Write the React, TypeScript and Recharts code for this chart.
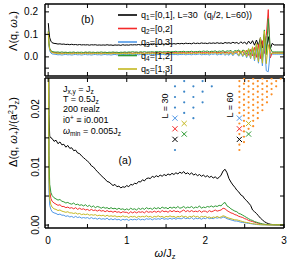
import React from 'react';
import { ComposedChart, Line, Scatter, XAxis, YAxis } from 'recharts';

// frequency grid (omega / J_z)
const omega = [
  0.002, 0.01, 0.02, 0.035, 0.05, 0.075,
  0.1, 0.125, 0.15, 0.175, 0.2, 0.225, 0.25, 0.275, 0.3, 0.325, 0.35, 0.375,
  0.4, 0.425, 0.45, 0.475, 0.5, 0.525, 0.55, 0.575, 0.6, 0.625, 0.65, 0.675,
  0.7, 0.725, 0.75, 0.775, 0.8, 0.825, 0.85, 0.875, 0.9, 0.925, 0.95, 0.975,
  1.0, 1.025, 1.05, 1.075, 1.1, 1.125, 1.15, 1.175, 1.2, 1.225, 1.25, 1.275,
  1.3, 1.325, 1.35, 1.375, 1.4, 1.425, 1.45, 1.475, 1.5, 1.525, 1.55, 1.575,
  1.6, 1.625, 1.65, 1.675, 1.7, 1.725, 1.75, 1.775, 1.8, 1.825, 1.85, 1.875,
  1.9, 1.925, 1.95, 1.975,
  2.0, 2.025, 2.05, 2.075, 2.1, 2.125, 2.15, 2.175, 2.2, 2.225, 2.25, 2.275,
  2.3, 2.325, 2.35, 2.375, 2.4, 2.425, 2.45, 2.475, 2.5, 2.525, 2.55, 2.575,
  2.6, 2.625, 2.65, 2.675, 2.7, 2.725, 2.75, 2.775, 2.8, 2.825, 2.85, 2.875,
  2.9, 2.925, 2.95, 2.975,
  3.0,
];

// panel (a): Delta(q, w+)/(a^2 J_z), values in units of 1e-3
const deltaQ1 = [
  40, 19, 15.3, 15.0, 14.9, 14.4,
  14.6, 14.0, 14.3, 13.8, 13.9, 13.4, 13.7, 13.2, 13.3, 12.8, 12.9, 12.4,
  12.3, 11.9, 11.6, 11.3, 11.0, 10.7, 10.2, 10.0, 9.6, 9.2, 8.9, 8.5,
  8.2, 7.9, 7.5, 7.4, 7.1, 6.8, 7.0, 6.6, 6.7, 6.4, 6.6, 6.5,
  6.8, 6.6, 7.0, 6.9, 7.2, 7.1, 7.5, 7.4, 7.8, 7.6, 8.0, 8.1,
  8.0, 8.4, 8.2, 8.5, 8.3, 8.6, 8.4, 8.7, 8.5, 8.8, 8.6, 8.9,
  8.7, 9.0, 8.8, 9.1, 8.9, 9.2, 8.8, 9.0, 8.7, 9.0, 8.6, 8.8,
  8.5, 8.7, 8.4, 8.6,
  8.3, 8.5, 8.2, 8.4, 8.1, 8.3, 8.0, 8.2, 8.6, 9.3, 9.6, 9.0,
  8.0, 7.4, 6.9, 6.5, 6.0, 5.7, 5.2, 5.0, 4.5, 4.2, 3.8, 3.4,
  2.6, 2.3, 2.0, 1.6, 1.2, 0.9, 0.6, 0.4, 0.25, 0.15, 0.1, 0.07,
  0.06, 0.05, 0.05, 0.05,
  0.05,
];
const deltaQ2 = [
  40, 10, 5.8, 4.6, 4.1, 3.8,
  3.6, 3.4, 3.5, 3.2, 3.2, 3.0, 3.1, 2.9, 3.0, 2.8, 3.0, 2.7,
  2.9, 2.7, 2.8, 2.6, 2.7, 2.5, 2.7, 2.5, 2.6, 2.4, 2.6, 2.4,
  2.5, 2.3, 2.5, 2.3, 2.4, 2.2, 2.4, 2.2, 2.3, 2.1, 2.3, 2.2,
  2.2, 2.0, 2.3, 2.1, 2.3, 2.1, 2.3, 2.2, 2.3, 2.1, 2.4, 2.2,
  2.3, 2.2, 2.4, 2.2, 2.4, 2.2, 2.5, 2.3, 2.4, 2.2, 2.5, 2.3,
  2.5, 2.3, 2.4, 2.2, 2.4, 2.6, 2.3, 2.5, 2.3, 2.5, 2.3, 2.4,
  2.3, 2.5, 2.2, 2.4,
  2.4, 2.2, 2.5, 2.3, 2.4, 2.6, 2.4, 2.5, 2.6, 2.9, 2.8, 2.5,
  2.3, 2.1, 2.0, 1.8, 1.7, 1.5, 1.4, 1.3, 1.1, 1.0, 0.8, 0.7,
  0.6, 0.5, 0.4, 0.3, 0.2, 0.15, 0.1, 0.08, 0.06, 0.05, 0.05, 0.05,
  0.05, 0.05, 0.05, 0.05,
  0.05,
];
const deltaQ3 = [
  40, 6, 3.4, 2.7, 2.3, 2.1,
  2.0, 1.8, 1.9, 1.7, 1.7, 1.5, 1.6, 1.4, 1.5, 1.3, 1.5, 1.3,
  1.4, 1.2, 1.3, 1.2, 1.3, 1.1, 1.3, 1.1, 1.2, 1.0, 1.2, 1.0,
  1.1, 1.0, 1.2, 0.9, 1.1, 0.9, 1.1, 0.9, 1.0, 0.8, 1.0, 0.9,
  1.0, 0.8, 1.0, 0.9, 1.0, 0.9, 1.1, 0.9, 1.0, 0.9, 1.1, 1.0,
  1.1, 0.9, 1.1, 1.0, 1.1, 1.0, 1.2, 1.0, 1.1, 1.0, 1.2, 1.0,
  1.2, 1.0, 1.2, 1.1, 1.1, 1.3, 1.1, 1.2, 1.1, 1.3, 1.0, 1.2,
  1.1, 1.2, 1.0, 1.2,
  1.1, 1.3, 1.1, 1.2, 1.1, 1.3, 1.2, 1.3, 1.2, 1.4, 1.3, 1.1,
  1.0, 0.9, 0.8, 0.7, 0.7, 0.6, 0.5, 0.45, 0.4, 0.35, 0.3, 0.25,
  0.2, 0.15, 0.1, 0.08, 0.06, 0.05, 0.05, 0.05, 0.05, 0.05, 0.05, 0.05,
  0.05, 0.05, 0.05, 0.05,
  0.05,
];
const deltaQ4 = [
  40, 12, 7.0, 5.6, 5.1, 4.7,
  4.5, 4.3, 4.4, 4.1, 4.0, 3.8, 3.9, 3.7, 3.6, 3.8, 3.5, 3.6,
  3.4, 3.5, 3.3, 3.5, 3.2, 3.4, 3.1, 3.3, 3.0, 3.2, 3.1, 2.9,
  3.1, 2.9, 3.0, 2.8, 3.0, 2.8, 2.9, 2.7, 2.9, 2.7, 2.8, 2.6,
  2.8, 2.6, 2.9, 2.7, 2.8, 2.6, 2.9, 2.7, 2.9, 2.7, 3.0, 2.8,
  2.9, 2.7, 3.0, 2.8, 3.0, 2.8, 3.1, 2.9, 3.0, 2.8, 3.1, 2.9,
  3.1, 2.9, 3.2, 2.9, 3.0, 3.2, 2.9, 3.1, 3.0, 3.2, 2.9, 3.1,
  3.0, 3.3, 2.9, 3.1,
  3.0, 3.2, 3.1, 3.3, 3.1, 3.3, 3.2, 3.4, 3.3, 3.7, 3.9, 3.3,
  3.1, 2.8, 2.6, 2.4, 2.3, 2.0, 1.9, 1.7, 1.5, 1.3, 1.1, 0.9,
  0.8, 0.6, 0.5, 0.4, 0.3, 0.2, 0.15, 0.1, 0.08, 0.06, 0.05, 0.05,
  0.05, 0.05, 0.05, 0.05,
  0.05,
];
const deltaQ5 = [
  40, 8, 4.5, 3.5, 3.1, 2.8,
  2.7, 2.5, 2.6, 2.4, 2.3, 2.2, 2.3, 2.1, 2.1, 2.0, 2.1, 1.9,
  2.0, 1.8, 1.9, 1.8, 1.9, 1.7, 1.8, 1.7, 1.8, 1.6, 1.7, 1.6,
  1.7, 1.5, 1.7, 1.5, 1.6, 1.5, 1.6, 1.4, 1.5, 1.4, 1.6, 1.4,
  1.5, 1.3, 1.5, 1.4, 1.5, 1.3, 1.5, 1.4, 1.5, 1.4, 1.6, 1.4,
  1.5, 1.3, 1.5, 1.4, 1.6, 1.4, 1.5, 1.3, 1.5, 1.4, 1.6, 1.4,
  1.5, 1.3, 1.5, 1.4, 1.6, 1.4, 1.5, 1.3, 1.5, 1.4, 1.6, 1.4,
  1.5, 1.3, 1.5, 1.4,
  1.5, 1.3, 1.4, 1.2, 1.4, 1.3, 1.5, 1.3, 1.4, 1.6, 1.5, 1.3,
  1.2, 1.1, 1.0, 0.9, 0.9, 0.8, 0.7, 0.6, 0.5, 0.45, 0.4, 0.3,
  0.25, 0.2, 0.15, 0.1, 0.08, 0.06, 0.05, 0.05, 0.05, 0.05, 0.05, 0.05,
  0.05, 0.05, 0.05, 0.05,
  0.05,
];

// panel (b): Lambda(q, w+), values in units of 1e-3
const lambdaQ1 = [
  150, 115, 85, 70, 63, 60,
  59, 57, 58, 56, 57, 55, 56, 54, 56, 54, 55, 53,
  55, 53, 54, 53, 54, 52, 54, 53, 54, 52, 53, 52,
  53, 52, 54, 52, 53, 51, 53, 52, 53, 51, 54, 52,
  53, 52, 54, 53, 54, 53, 55, 53, 55, 53, 56, 54,
  56, 54, 57, 55, 57, 55, 58, 56, 58, 56, 59, 57,
  59, 57, 60, 58, 60, 58, 61, 59, 60, 58, 62, 59,
  61, 59, 62, 60,
  61, 59, 62, 60, 62, 60, 63, 60, 62, 59, 64, 61,
  63, 60, 65, 61, 64, 58, 67, 60, 66, 56, 70, 58,
  72, 52, 75, 50, 85, 40, 100, 30, 90, 35, 60, 53,
  53, 53, 53, 53,
  53,
];
const lambdaQ2 = [
  110, 58, 34, 25, 21, 19,
  19, 17, 18, 16, 18, 19, 17, 18, 16, 18, 19, 17,
  18, 16, 18, 19, 17, 18, 16, 18, 19, 17, 18, 16,
  18, 19, 17, 18, 16, 18, 19, 17, 18, 17, 19, 18,
  17, 19, 18, 16, 18, 19, 17, 19, 18, 16, 18, 19,
  17, 19, 18, 17, 19, 18, 20, 18, 17, 19, 18, 20,
  18, 19, 17, 19, 18, 20, 17, 19, 19, 17, 20, 18,
  19, 21, 18, 19,
  18, 20, 17, 21, 19, 21, 18, 20, 17, 22, 18, 21,
  16, 23, 15, 22, 20, 26, 13, 25, 10, 29, 7, 33,
  4, 42, -2, 55, -8, 72, 15, 95, 210, -5, 18, 18,
  18, 18, 18, 18,
  18,
];
const lambdaQ3 = [
  105, 48, 27, 17, 13, 12,
  11, 9, 10, 8, 10, 11, 9, 10, 8, 10, 11, 9,
  10, 8, 10, 11, 9, 10, 8, 10, 11, 9, 10, 8,
  10, 11, 9, 10, 8, 10, 11, 9, 10, 9, 11, 10,
  9, 11, 10, 8, 10, 11, 9, 11, 10, 8, 10, 11,
  9, 11, 10, 9, 11, 10, 12, 10, 9, 11, 10, 12,
  10, 11, 9, 11, 10, 12, 9, 11, 11, 9, 12, 10,
  11, 13, 9, 11,
  10, 12, 8, 13, 11, 14, 8, 13, 9, 15, 7, 14,
  7, 17, 5, 16, 14, 3, 18, 1, 20, -4, 24, -8,
  30, -18, 38, -28, 52, -40, 72, -62, -66, 20, 12, 12,
  12, 12, 12, 12,
  12,
];
const lambdaQ4 = [
  115, 62, 38, 28, 24, 22,
  21, 22, 20, 22, 20, 21, 19, 21, 20, 22, 19, 21,
  20, 21, 19, 22, 20, 22, 20, 21, 19, 21, 20, 22,
  20, 21, 19, 21, 20, 22, 20, 21, 19, 21, 20, 22,
  20, 22, 21, 23, 21, 22, 20, 23, 21, 23, 21, 22,
  22, 23, 21, 24, 22, 24, 21, 23, 22, 24, 22, 23,
  23, 25, 22, 24, 23, 25, 22, 24, 23, 25, 22, 24,
  23, 25, 23, 26,
  24, 26, 22, 25, 24, 27, 22, 26, 24, 28, 21, 27,
  25, 29, 20, 28, 26, 31, 17, 30, 28, 12, 36, 10,
  42, 5, 55, 0, 75, -15, 120, 10, 170, 40, 22, 22,
  22, 22, 22, 22,
  22,
];
const lambdaQ5 = [
  112, 56, 32, 23, 19, 17,
  16, 14, 15, 13, 15, 16, 14, 15, 13, 15, 16, 14,
  15, 13, 15, 16, 14, 15, 13, 15, 16, 14, 15, 13,
  15, 16, 14, 15, 13, 15, 16, 14, 15, 14, 16, 15,
  14, 16, 15, 13, 15, 16, 14, 16, 15, 13, 15, 16,
  14, 16, 15, 14, 16, 15, 17, 15, 14, 16, 15, 17,
  15, 16, 14, 16, 15, 17, 14, 16, 16, 14, 17, 15,
  16, 18, 14, 16,
  15, 17, 13, 18, 16, 19, 13, 18, 14, 20, 11, 19,
  12, 22, 9, 21, 24, 6, 27, 4, 30, 0, 36, -6,
  45, -12, 60, -22, 85, -28, 115, -30, 55, 14, 16, 16,
  16, 16, 16, 16,
  16,
];

// inset: triangular q-lattices, (column, half-row) lattice indices
const latticeL30 = [
  [0, 0], [0, 8], [0, 10], [0, 12],
  [1, 7], [1, 9], [1, 11], [1, 13],
  [2, 6], [2, 8], [2, 10], [2, 12],
  [3, 9], [3, 11], [3, 13],
  [4, 12],
];
const latticeL60 = [
  [0, 0], [0, 2], [0, 6], [0, 10], [0, 14], [0, 16], [0, 18], [0, 20], [0, 22], [0, 24], [0, 26],
  [1, 3], [1, 5], [1, 7], [1, 9], [1, 11], [1, 13], [1, 15], [1, 17], [1, 19], [1, 21], [1, 23], [1, 25], [1, 27],
  [2, 8], [2, 12], [2, 14], [2, 16], [2, 18], [2, 20], [2, 22], [2, 24], [2, 26],
  [3, 9], [3, 11], [3, 13], [3, 15], [3, 17], [3, 19], [3, 21], [3, 23], [3, 25], [3, 27],
  [4, 12], [4, 14], [4, 16], [4, 18], [4, 20], [4, 22], [4, 24], [4, 26],
  [5, 15], [5, 17], [5, 19], [5, 21], [5, 23], [5, 25], [5, 27],
  [6, 18], [6, 20], [6, 22], [6, 24], [6, 26],
  [7, 21], [7, 23], [7, 25], [7, 27],
  [8, 24], [8, 26],
  [9, 27],
];
// selected momenta q1..q5 on the L=30 lattice (q index, column, half-row)
const selectedQ = [
  [1, 0, 2],
  [2, 0, 4],
  [3, 0, 6],
  [4, 1, 3],
  [5, 1, 5],
];
const L60_OFFSET = 7; // column offset of the L=60 lattice origin (in L=30 columns)

const xTicks = [0, 0.5, 1, 1.5, 2, 2.5, 3];
const topYTicks = [-0.05, 0, 0.1, 0.2];
const botYTicks = [0, 0.005, 0.01, 0.015, 0.02];

const C = {
  1: '#000000',
  2: '#f42a2a',
  3: '#4f97e6',
  4: '#2f9a34',
  5: '#c4b820',
};
const DOT30 = '#3c86c8';
const DOT60 = '#fb8c23';
const FONT = '"Liberation Sans", Arial, Helvetica, sans-serif';

const botData = omega.map((w, i) => ({
  w,
  q1: deltaQ1[i] / 1000,
  q2: deltaQ2[i] / 1000,
  q3: deltaQ3[i] / 1000,
  q4: deltaQ4[i] / 1000,
  q5: deltaQ5[i] / 1000,
}));
const topData = omega.map((w, i) => ({
  w,
  q1: lambdaQ1[i] / 1000,
  q2: lambdaQ2[i] / 1000,
  q3: lambdaQ3[i] / 1000,
  q4: lambdaQ4[i] / 1000,
  q5: lambdaQ5[i] / 1000,
}));
const dots30 = latticeL30.map(([c, h]) => ({ lx: c, ly: h }));
const dots60 = latticeL60.map(([c, h]) => ({ lx: L60_OFFSET + c / 2, ly: h / 2 }));
const marks30 = selectedQ.map(([q, c, h]) => ({ lx: c, ly: h, q }));
const marks60 = selectedQ.map(([q, c, h]) => ({ lx: L60_OFFSET + c, ly: h, q }));

const near = (a: number, b: number) => Math.abs(a - b) < 1e-9;

const NoTick = () => <g />;
const TopYTick = (p: any) => {
  const v = p.payload.value;
  if (!(near(v, 0) || near(v, 0.1) || near(v, 0.2))) return <g />;
  return (
    <text x={p.x - 11} y={p.y + 3.6} textAnchor="end" fontSize={10} fontFamily={FONT} fill="#000">
      {v.toFixed(1)}
    </text>
  );
};
const BotYTick = (p: any) => {
  const v = p.payload.value;
  if (!(near(v, 0) || near(v, 0.01) || near(v, 0.02))) return <g />;
  const x = p.x - 10;
  return (
    <text x={x} y={p.y} transform={`rotate(-90 ${x} ${p.y})`} textAnchor="middle" fontSize={10} fontFamily={FONT} fill="#000">
      {v.toFixed(2)}
    </text>
  );
};
const BotXTick = (p: any) => {
  const v = p.payload.value;
  if (!Number.isInteger(v)) return <g />;
  return (
    <text x={p.x} y={p.y + 20} textAnchor="middle" fontSize={10} fontFamily={FONT} fill="#000">
      {v}
    </text>
  );
};

const dotShape = (color: string) => (p: any) => <circle cx={p.cx} cy={p.cy} r={1.1} fill={color} />;
const crossShape = (p: any) => {
  const s = 2.6;
  const col = (C as any)[p.payload.q];
  return (
    <g stroke={col} strokeWidth={1}>
      <line x1={p.cx - s} y1={p.cy - s} x2={p.cx + s} y2={p.cy + s} />
      <line x1={p.cx - s} y1={p.cy + s} x2={p.cx + s} y2={p.cy - s} />
    </g>
  );
};

const axisLine = { stroke: '#000', strokeWidth: 1.5 };
const tickLine = { stroke: '#000', strokeWidth: 1 };

const series = ['q1', 'q2', 'q3', 'q4', 'q5'];
const lineColor = (k: string) => (C as any)[Number(k.slice(1))];

export default function App() {
  const W = 291;
  return (
    <div style={{ position: 'absolute', left: 0, top: 0, width: W, height: 263, background: '#fff' }}>
      {/* bottom panel (a) */}
      <div style={{ position: 'absolute', left: 0, top: 0 }}>
        <ComposedChart width={W} height={263} data={botData} margin={{ top: 77, right: 6, bottom: 0, left: 15 }}>
          <XAxis xAxisId="m" dataKey="w" type="number" domain={[-0.04, 3]} allowDataOverflow ticks={xTicks}
            height={35} tickSize={-4} tickMargin={0} axisLine={axisLine} tickLine={tickLine} tick={BotXTick} interval={0} />
          <XAxis xAxisId="t" orientation="top" dataKey="w" type="number" domain={[-0.04, 3]} allowDataOverflow ticks={xTicks}
            height={1} tickSize={-4} tickMargin={0} axisLine={axisLine} tickLine={tickLine} tick={NoTick} interval={0} />
          <YAxis yAxisId="m" type="number" domain={[-0.0005, 0.0253]} allowDataOverflow ticks={botYTicks}
            width={30} tickSize={-4} tickMargin={0} axisLine={axisLine} tickLine={tickLine} tick={BotYTick} interval={0} />
          <YAxis yAxisId="r" orientation="right" type="number" domain={[-0.0005, 0.0253]} allowDataOverflow ticks={botYTicks}
            width={1} tickSize={-4} tickMargin={0} axisLine={axisLine} tickLine={tickLine} tick={NoTick} interval={0} />
          <XAxis xAxisId="lat" orientation="top" dataKey="lx" type="number" hide height={0} domain={[-14.13, 11.85]} allowDataOverflow />
          <YAxis yAxisId="lat" orientation="right" dataKey="ly" type="number" hide width={0} domain={[-14.72, 13.58]} allowDataOverflow />
          {series.map((k) => (
            <Line key={k} xAxisId="m" yAxisId="m" dataKey={k} type="linear" stroke={lineColor(k)} strokeWidth={1}
              dot={false} activeDot={false} isAnimationActive={false} />
          ))}
          <Scatter xAxisId="lat" yAxisId="lat" data={dots30} shape={dotShape(DOT30)} isAnimationActive={false} />
          <Scatter xAxisId="lat" yAxisId="lat" data={dots60} shape={dotShape(DOT60)} isAnimationActive={false} />
          <Scatter xAxisId="lat" yAxisId="lat" data={marks30} shape={crossShape} isAnimationActive={false} />
          <Scatter xAxisId="lat" yAxisId="lat" data={marks60} shape={crossShape} isAnimationActive={false} />
        </ComposedChart>
      </div>
      {/* top panel (b) */}
      <div style={{ position: 'absolute', left: 0, top: 0 }}>
        <ComposedChart width={W} height={80} data={topData} margin={{ top: 3, right: 6, bottom: 3, left: 15 }}>
          <XAxis xAxisId="m" dataKey="w" type="number" domain={[-0.04, 3]} allowDataOverflow ticks={xTicks}
            height={1} tickSize={-4} tickMargin={0} axisLine={axisLine} tickLine={tickLine} tick={NoTick} interval={0} />
          <XAxis xAxisId="t" orientation="top" dataKey="w" type="number" domain={[-0.04, 3]} allowDataOverflow ticks={xTicks}
            height={1} tickSize={-4} tickMargin={0} axisLine={axisLine} tickLine={tickLine} tick={NoTick} interval={0} />
          <YAxis yAxisId="m" type="number" domain={[-0.085, 0.235]} allowDataOverflow ticks={topYTicks}
            width={30} tickSize={-4} tickMargin={0} axisLine={axisLine} tickLine={tickLine} tick={TopYTick} interval={0} />
          <YAxis yAxisId="r" orientation="right" type="number" domain={[-0.085, 0.235]} allowDataOverflow ticks={topYTicks}
            width={1} tickSize={-4} tickMargin={0} axisLine={axisLine} tickLine={tickLine} tick={NoTick} interval={0} />
          {series.map((k) => (
            <Line key={k} xAxisId="m" yAxisId="m" dataKey={k} type="linear" stroke={lineColor(k)} strokeWidth={1}
              dot={false} activeDot={false} isAnimationActive={false} />
          ))}
        </ComposedChart>
      </div>
      {/* text overlay */}
      <svg width={W} height={263} style={{ position: 'absolute', left: 0, top: 0, pointerEvents: 'none' }}
        fontFamily={FONT} fill="#000">
        {/* y titles */}
        <text transform="translate(17,31) rotate(-90)" textAnchor="middle" fontSize={11}>
          Λ(q, <tspan fontStyle="italic">ω</tspan><tspan fontSize={7.5} dy={2}>+</tspan><tspan dy={-2}>)</tspan>
        </text>
        <text transform="translate(17,132) rotate(-90)" textAnchor="middle" fontSize={11}>
          Δ(q, <tspan fontStyle="italic">ω</tspan><tspan fontSize={7.5} dy={2}>+</tspan><tspan dy={-2}>)/(a</tspan>
          <tspan fontSize={7.5} dy={-4}>2</tspan><tspan dy={4}>J</tspan><tspan fontSize={7.5} dy={2}>z</tspan>
          <tspan dy={-2}>)</tspan>
        </text>
        {/* x title */}
        <text x={165} y={257} textAnchor="middle" fontSize={11}>
          <tspan fontStyle="italic">ω</tspan>/J<tspan fontSize={7.5} dy={2}>z</tspan>
        </text>
        {/* panel labels */}
        <text x={87.5} y={23} textAnchor="middle" fontSize={10.5}>(b)</text>
        <text x={125} y={164} textAnchor="middle" fontSize={10.5}>(a)</text>
        {/* legend */}
        {[1, 2, 3, 4, 5].map((q, i) => {
          const y = 15 + i * 13.5;
          const labels = ['[0,1], L=30', '[0,2]', '[0,3]', '[1,2]', '[1,3]'];
          return (
            <g key={q}>
              <line x1={118} x2={137} y1={y} y2={y} stroke={(C as any)[q]} strokeWidth={1.6} />
              <text x={141} y={y + 3.2} fontSize={9}>
                q<tspan fontSize={6.5} dy={2}>{q}</tspan><tspan dy={-2}>={labels[i]}</tspan>
                {q === 1 ? (
                  <>
                    <tspan dx={6}>(q</tspan><tspan fontSize={6.5} dy={2}>i</tspan><tspan dy={-2}>/2, L=60))</tspan>
                  </>
                ) : null}
              </text>
            </g>
          );
        })}
        {/* parameter block */}
        <g fontSize={9}>
          <text x={63} y={92}>J<tspan fontSize={6.5} dy={2}>x,y</tspan><tspan dy={-2}> = J</tspan><tspan fontSize={6.5} dy={2}>z</tspan></text>
          <text x={63} y={102}>T = 0.5J<tspan fontSize={6.5} dy={2}>z</tspan></text>
          <text x={63} y={112}>200 realz</text>
          <text x={63} y={123}>i0<tspan fontSize={6.5} dy={-3}>+</tspan><tspan dy={3}> ≡ i0.001</tspan></text>
          <text x={63} y={134}><tspan fontStyle="italic">ω</tspan><tspan fontSize={6.5} dy={2}>min</tspan><tspan dy={-2}> = 0.005J</tspan><tspan fontSize={6.5} dy={2}>z</tspan></text>
        </g>
        {/* lattice labels */}
        <text transform="translate(168,106) rotate(-90)" textAnchor="middle" fontSize={9}>L = 30</text>
        <text transform="translate(233,105) rotate(-90)" textAnchor="middle" fontSize={9}>L = 60</text>
      </svg>
    </div>
  );
}
